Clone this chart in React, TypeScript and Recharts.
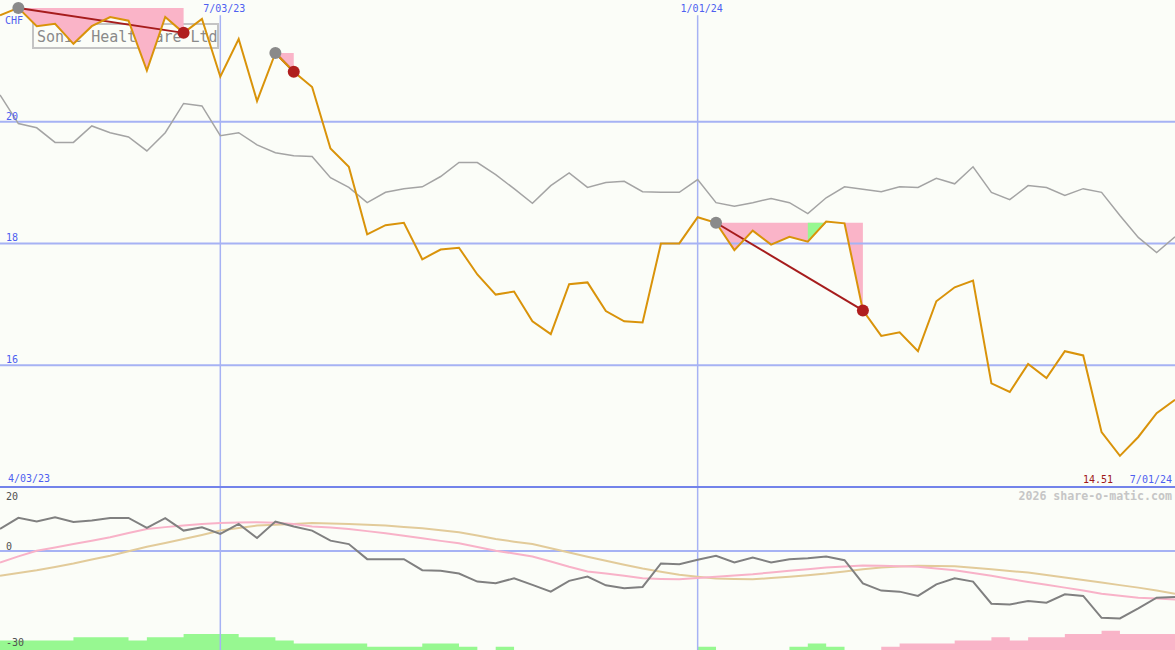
import { ComposedChart, Line, Area, XAxis, YAxis, ReferenceLine, Customized } from "recharts";

// weekly closes, 3 Apr 2023 .. 1 Jul 2024
const priceChf = [
    21.75, 21.87, 21.57, 21.61, 21.28, 21.57, 21.72, 21.66, 20.84, 21.72,
    21.46, 21.69, 20.74, 21.36, 20.34, 21.13, 20.82, 20.57, 19.56, 19.26,
    18.15, 18.30, 18.34, 17.74, 17.90, 17.93, 17.49, 17.16, 17.21, 16.72,
    16.51, 17.33, 17.36, 16.89, 16.72, 16.70, 18.00, 18.00, 18.43, 18.34,
    17.89, 18.21, 17.98, 18.11, 18.03, 18.36, 18.33, 16.90, 16.48, 16.54,
    16.23, 17.05, 17.28, 17.39, 15.70, 15.56, 16.02, 15.79, 16.23, 16.16,
    14.90, 14.51, 14.82, 15.21, 15.43,
];

const peerIndex = [
    20.44, 19.97, 19.90, 19.66, 19.66, 19.93, 19.82, 19.75, 19.52, 19.82,
    20.30, 20.26, 19.77, 19.82, 19.62, 19.49, 19.44, 19.43, 19.08, 18.92,
    18.67, 18.84, 18.90, 18.93, 19.10, 19.33, 19.33, 19.13, 18.90, 18.66,
    18.95, 19.16, 18.92, 19.00, 19.02, 18.85, 18.84, 18.84, 19.05, 18.67,
    18.61, 18.67, 18.74, 18.67, 18.49, 18.75, 18.93, 18.89, 18.85, 18.93,
    18.92, 19.07, 18.98, 19.26, 18.84, 18.72, 18.95, 18.92, 18.79, 18.90,
    18.84, 18.46, 18.10, 17.85, 18.11,
];

const momentum = [
    6.87, 10.34, 9.20, 10.56, 9.08, 9.52, 10.34, 10.34, 7.19, 10.24,
    6.37, 7.41, 5.30, 8.45, 4.04, 9.20, 7.63, 6.37, 3.22, 2.15,
    -2.57, -2.57, -2.57, -6.03, -6.22, -7.07, -9.59, -10.13, -8.55, -10.63,
    -12.74, -9.37, -8.02, -10.76, -11.70, -11.26, -3.92, -4.15, -2.76, -1.50,
    -3.61, -2.04, -3.61, -2.57, -2.26, -1.72, -2.89, -10.13, -12.40, -12.74,
    -14.09, -10.44, -8.55, -9.59, -16.52, -16.74, -15.67, -16.20, -13.59, -14.09,
    -20.92, -21.14, -18.00, -14.63, -14.41,
];

const momentumFast = [
    -3.61, -1.70, 0.07, 1.10, 2.15, 3.20, 4.26, 5.60, 6.87, 7.45,
    7.94, 8.40, 8.76, 8.90, 8.98, 8.80, 8.45, 7.63, 7.30, 6.87,
    6.20, 5.52, 4.75, 3.95, 3.15, 2.37, 1.20, 0.07, -0.80, -1.72,
    -3.30, -4.96, -6.44, -7.07, -7.80, -8.55, -8.75, -8.87, -8.50, -8.11,
    -7.70, -7.29, -6.75, -6.22, -5.70, -5.18, -4.85, -4.55, -4.65, -4.80,
    -4.96, -5.50, -6.03, -6.90, -7.80, -8.75, -9.69, -10.60, -11.48, -12.40,
    -13.37, -14.00, -14.63, -14.90, -15.16,
];

const momentumSlow = [
    -7.80, -6.90, -6.03, -5.00, -3.92, -2.70, -1.50, -0.10, 1.33, 2.50,
    3.72, 5.00, 6.37, 7.20, 7.94, 8.20, 8.45, 8.76, 8.60, 8.45,
    8.20, 7.94, 7.50, 7.09, 6.50, 5.83, 4.80, 3.72, 2.90, 2.15,
    0.85, -0.46, -1.82, -3.07, -4.30, -5.50, -6.50, -7.48, -8.10, -8.65,
    -8.80, -8.87, -8.50, -8.11, -7.60, -7.07, -6.40, -5.72, -5.18, -4.90,
    -4.65, -4.70, -4.77, -5.25, -5.72, -6.25, -6.76, -7.55, -8.33, -9.10,
    -9.91, -10.70, -11.48, -12.40, -13.37,
];

// signed histogram, + green / - pink
const volumeBars = [
    3, 3, 3, 3, 4, 4, 4, 3, 4, 4,
    5, 5, 5, 4, 4, 3, 2, 2, 2, 2,
    1, 1, 1, 2, 2, 1, 0, 1, 0, 0,
    0, 0, 0, 0, 0, 0, 0, 0, 1, 0,
    0, 0, 0, 1, 2, 1, 0, 0, -1, -2,
    -2, -2, -3, -3, -4, -3, -4, -4, -5, -5,
    -6, -5, -5, -5, -5,
];

const signalStart = [1, 15, 39];
const signalEnd = [10, 16, 47];
const greenShadeStart = [44];
const greenShadeEnd = [45];

const dateTickIndex = [0, 12, 38, 64];
const dateTickLabels = ["4/03/23", "7/03/23", "1/01/24", "7/01/24"];
const priceTicks = [16, 18, 20];
const oscTicks = [-30, 0, 20];

const W = 1175;
const H = 650;
const PRICE_DOMAIN = [11.32, 22];
const OSC_MIN = -31;
const OSC_DOMAIN = [OSC_MIN, 172.4];
const GRID_TOP = 21.75;

const MONO = "'DejaVu Sans Mono', monospace";
const BLUE_TEXT = "#4e5ff0";
const GRID = "#a6b2f4";

const data = priceChf.map((price, i) => {
    const row: any = {
        i,
        price,
        peer: peerIndex[i],
        mom: momentum[i],
        fast: momentumFast[i],
        slow: momentumSlow[i],
        barUp: volumeBars[i] > 0 ? OSC_MIN + volumeBars[i] : OSC_MIN,
        barDown: volumeBars[i] < 0 ? OSC_MIN - volumeBars[i] : OSC_MIN,
        shade: null,
        shadeGreen: null,
        mark: null,
        markKind: null,
    };
    signalStart.forEach((s, k) => {
        const e = signalEnd[k];
        const level = priceChf[s];
        row[`trend${k}`] = i === s || i === e ? price : null;
        if (i >= s && i <= e) row.shade = [Math.min(price, level), level];
        if (i === s) { row.mark = price; row.markKind = "start"; }
        if (i === e) { row.mark = price; row.markKind = "end"; }
        greenShadeStart.forEach((g, j) => {
            if (g >= s && g <= e && i >= g && i <= greenShadeEnd[j]) {
                row.shadeGreen = [Math.min(price, level), level];
            }
        });
    });
    return row;
});

const minPrice = Math.min(...priceChf).toFixed(2);

const DateTick = (props: any) => {
    const { x, payload } = props;
    const label = dateTickLabels[dateTickIndex.indexOf(payload.value)];
    const common = { fontFamily: MONO, fontSize: 10, fill: BLUE_TEXT };
    if (payload.value === dateTickIndex[0]) {
        return <text x={x + 8} y={482} {...common}>{label}</text>;
    }
    if (payload.value === dateTickIndex[dateTickIndex.length - 1]) {
        return (
            <g>
                <text x={x - 92} y={483} {...common} fill="#a01818">{minPrice}</text>
                <text x={x - 3} y={483} textAnchor="end" {...common}>{label}</text>
            </g>
        );
    }
    return <text x={x + 4} y={12} textAnchor="middle" {...common}>{label}</text>;
};

const PriceTick = (props: any) => (
    <text x={6} y={props.y - 2} fontFamily={MONO} fontSize={10} fill={BLUE_TEXT}>
        {props.payload.value}
    </text>
);

const OscTick = (props: any) => (
    <text x={6} y={props.payload.value === 20 ? props.y + 13 : props.y - 1}
        fontFamily={MONO} fontSize={10} fill="#505050">
        {props.payload.value}
    </text>
);

const TitleBox = () => (
    <g>
        <rect x={33} y={24} width={185} height={24} fill="none" stroke="#c4c4c4" strokeWidth={2} />
        <text x={37} y={42} fontFamily={MONO} fontSize={15} fill="#8a8a8a">Sonic Healthcare Ltd</text>
        <text x={5} y={24} fontFamily={MONO} fontSize={10} fill={BLUE_TEXT}>CHF</text>
        <text x={1172} y={500} textAnchor="end" fontFamily={MONO} fontSize={11.6}
            fontWeight="bold" fill="#c6c6c6">2026 share-o-matic.com</text>
    </g>
);

const renderMark = (props: any) => {
    const { cx, cy, payload, index } = props;
    if (cy == null || payload.mark == null) return <g key={`m${index}`} />;
    const fill = payload.markKind === "start" ? "#8a8a8a" : "#b01e1e";
    return <circle key={`m${index}`} cx={cx} cy={cy} r={6} fill={fill} />;
};

export default function App() {
    return (
        <div style={{ position: "fixed", left: 0, top: 0, width: W, height: H, background: "#fbfdf8" }}>
            <ComposedChart width={W} height={H} data={data}
                margin={{ top: 0, right: 0, bottom: 0, left: 0 }}>
                <XAxis dataKey="i" type="number" domain={[0, 64]} orientation="top" mirror
                    ticks={dateTickIndex} interval={0} tick={<DateTick />}
                    axisLine={false} tickLine={false} />
                <YAxis yAxisId="price" type="number" domain={PRICE_DOMAIN} allowDataOverflow mirror width={30}
                    ticks={priceTicks} interval={0} tick={<PriceTick />} axisLine={false} tickLine={false} />
                <YAxis yAxisId="osc" type="number" domain={OSC_DOMAIN} allowDataOverflow mirror width={30}
                    ticks={oscTicks} interval={0} tick={<OscTick />} axisLine={false} tickLine={false} />

                <Customized component={<TitleBox />} />

                {priceTicks.map((t) => (
                    <ReferenceLine key={t} yAxisId="price" y={t} stroke={GRID} strokeWidth={2} />
                ))}
                <ReferenceLine yAxisId="osc" y={0} stroke={GRID} strokeWidth={2} />
                {dateTickIndex.slice(1, -1).map((d) => (
                    <ReferenceLine key={d} yAxisId="price" stroke={GRID} strokeWidth={1.5}
                        segment={[{ x: d, y: GRID_TOP }, { x: d, y: PRICE_DOMAIN[0] }]} />
                ))}
                <ReferenceLine yAxisId="price" y={14} stroke="#7383ea" strokeWidth={2} />

                <Area yAxisId="osc" dataKey="barUp" type="stepAfter" baseValue={OSC_MIN} activeDot={false}
                    fill="#97f891" fillOpacity={1} stroke="none" isAnimationActive={false} />
                <Area yAxisId="osc" dataKey="barDown" type="stepAfter" baseValue={OSC_MIN} activeDot={false}
                    fill="#f9b4c8" fillOpacity={1} stroke="none" isAnimationActive={false} />
                <Line yAxisId="osc" dataKey="slow" stroke="#e2cb9a" strokeWidth={2} dot={false} activeDot={false} isAnimationActive={false} />
                <Line yAxisId="osc" dataKey="fast" stroke="#f8b2c8" strokeWidth={2} dot={false} activeDot={false} isAnimationActive={false} />
                <Line yAxisId="osc" dataKey="mom" stroke="#808080" strokeWidth={2} dot={false} activeDot={false} isAnimationActive={false} />

                <Line yAxisId="price" dataKey="peer" stroke="#a4a4a4" strokeWidth={1.5} dot={false} activeDot={false} isAnimationActive={false} />
                <Area yAxisId="price" dataKey="shade" fill="#fab4c8" fillOpacity={1} stroke="none" activeDot={false} isAnimationActive={false} />
                <Area yAxisId="price" dataKey="shadeGreen" fill="#97f891" fillOpacity={1} stroke="none" activeDot={false} isAnimationActive={false} />
                {signalStart.map((s, k) => (
                    <Line key={s} yAxisId="price" dataKey={`trend${k}`} connectNulls stroke="#a61c1c"
                        strokeWidth={2} dot={false} activeDot={false} isAnimationActive={false} />
                ))}
                <Line yAxisId="price" dataKey="mark" stroke="none" dot={renderMark} activeDot={false} isAnimationActive={false} />
                <Line yAxisId="price" dataKey="price" stroke="#d9930a" strokeWidth={2} dot={false} activeDot={false} isAnimationActive={false} />
            </ComposedChart>
        </div>
    );
}
